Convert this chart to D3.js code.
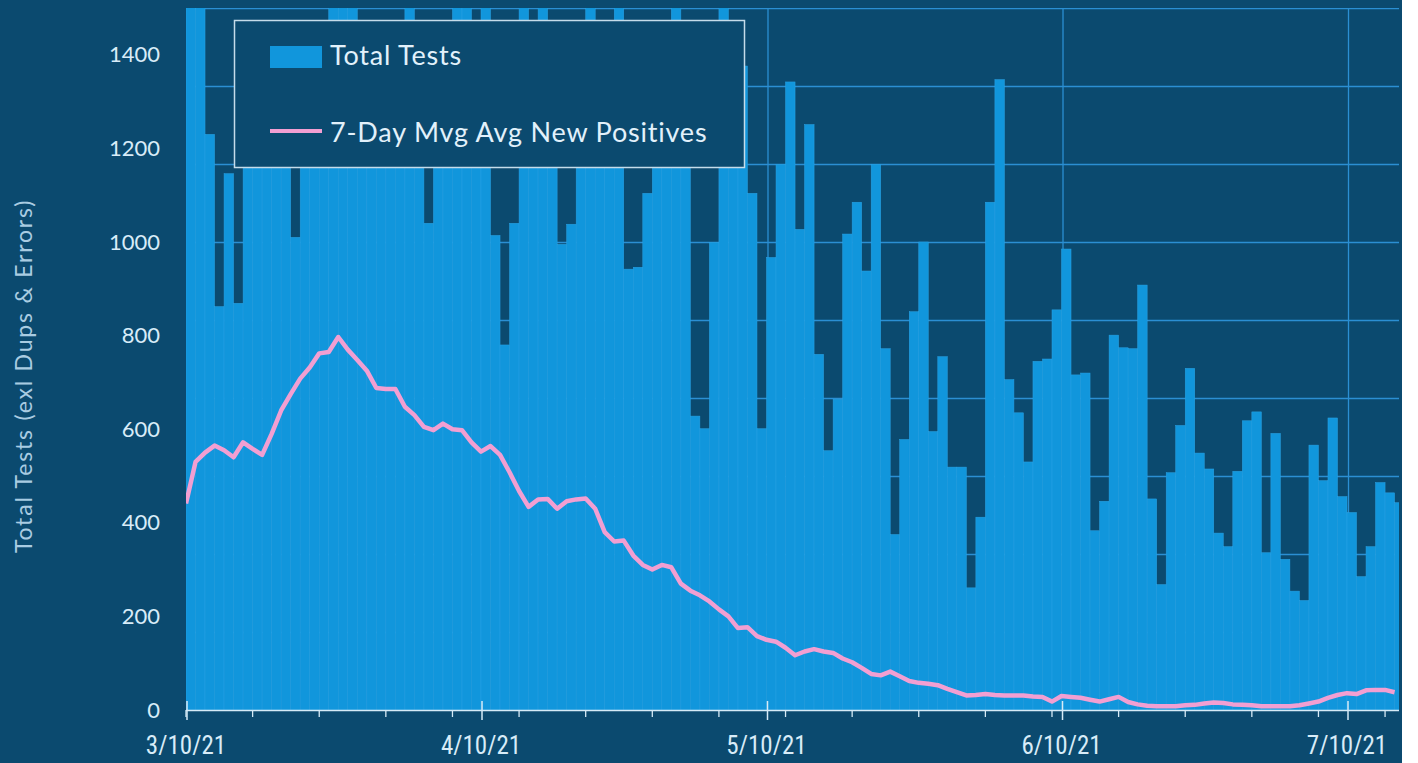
<!DOCTYPE html>
<html>
<head>
<meta charset="utf-8">
<script src="https://cdn.jsdelivr.net/npm/d3@7/dist/d3.min.js"></script>
<style>
  html, body { margin: 0; padding: 0; background: #ffffff; }
  svg { display: block; }
</style>
</head>
<body>
<svg id="chart" width="1418" height="763"></svg>
<script>
// ---------------- DATA ----------------
const startDate = "2021-03-10";   // first day (one bar per day)

// Total tests per day (values above 1500 are clipped at the top of the plot)
const totalTests = [
  1600, 1600, 1230, 862, 1146, 869, 1350, 1420, 1380, 1300,
  1400, 1010, 1380, 1440, 1320, 1600, 1600, 1600, 1400, 1350,
  1420, 1300, 1380, 1600, 1350, 1040, 1420, 1380, 1600, 1600,
  1440, 1600, 1014, 780, 1040, 1600, 1400, 1600, 1350, 995,
  1038, 1420, 1600, 1380, 1440, 1600, 942, 946, 1104, 1400,
  1350, 1600, 1420, 628, 601, 999, 1600, 1400, 1376, 1104,
  601, 967, 1166, 1342, 1027, 1251, 760, 554, 664, 1017,
  1085, 938, 1166, 772, 375, 578, 851, 1000, 595, 755,
  519, 519, 261, 412, 1085, 1347, 706, 635, 530, 745,
  750, 855, 985, 716, 720, 383, 446, 801, 774, 772,
  908, 451, 268, 507, 608, 730, 549, 515, 378, 349,
  510, 618, 637, 336, 591, 322, 254, 234, 566, 490,
  624, 456, 422, 285, 349, 486, 464, 443
];

// 7-day moving average of new positives (read against the left axis scale)
const mvgAvgPositives = [
  441, 530, 550, 565, 555, 540, 572, 558, 545, 590,
  640, 675, 708, 732, 762, 765, 797, 770, 748, 725,
  688, 686, 686, 648, 630, 605, 598, 612, 600, 598,
  572, 552, 564, 545, 508, 468, 434, 450, 451, 430,
  446, 450, 452, 430, 380, 360, 362, 330, 310, 300,
  310, 305, 270, 255, 245, 232, 215, 200, 175, 177,
  158, 150, 146, 133, 117, 125, 130, 125, 122, 110,
  102, 90, 77, 74, 82, 72, 62, 58, 56, 53,
  45, 38, 31, 32, 34, 32, 31, 31, 31, 29,
  28, 18, 30, 28, 26, 22, 18, 23, 28, 17,
  12, 9, 8, 8, 8, 10, 11, 14, 16, 15,
  12, 11, 10, 8, 8, 8, 8, 10, 14, 18,
  26, 32, 36, 34, 42, 43, 43, 38
];

const yTicks = [0, 200, 400, 600, 800, 1000, 1200, 1400];
const xTickLabels = ["3/10/21", "4/10/21", "5/10/21", "6/10/21", "7/10/21"];
const xTickDates = ["2021-03-10", "2021-04-10", "2021-05-10", "2021-06-10", "2021-07-10"];
const legendLabels = ["Total Tests", "7-Day Mvg Avg New Positives"];
const yAxisTitle = "Total Tests (exl Dups & Errors)";

// ---------------- LAYOUT ----------------
const W = 1418, H = 763;
const plot = { left: 186, right: 1399, top: 8, bottom: 710 };
const colors = {
  bg: "#0b4a6f",
  bar: "#1196dc",
  barSeam: "#2aa3e6",
  grid: "#2b8fd3",
  line: "#f29fd2",
  axis: "#d6ebf7",
  text: "#d8ecf8",
  title: "#a9cce2",
  legendBorder: "#c5dcea"
};

const parse = d3.utcParse("%Y-%m-%d");
const d0 = parse(startDate);
const days = totalTests.map((_, i) => d3.utcDay.offset(d0, i));

const x = d3.scaleUtc()
  .domain([parse("2021-03-10"), parse("2021-07-10")])
  .range([186, 1347]);
const y = d3.scaleLinear().domain([0, 1500]).range([plot.bottom, plot.top]);
const gridY = d3.scaleLinear().domain([0, 9]).range([plot.bottom, plot.top]);

const svg = d3.select("#chart");

// background
svg.append("rect").attr("x", 0).attr("y", 0).attr("width", plot.right + 3).attr("height", H)
  .attr("fill", colors.bg);

svg.append("defs").append("clipPath").attr("id", "clip")
  .append("rect").attr("x", plot.left).attr("y", plot.top)
  .attr("width", plot.right - plot.left).attr("height", plot.bottom - plot.top);

const g = svg.append("g").attr("clip-path", "url(#clip)");

// horizontal gridlines (9 equal divisions)
g.selectAll("line.hgrid").data(d3.range(1, 10)).join("line")
  .attr("class", "hgrid")
  .attr("x1", plot.left).attr("x2", plot.right)
  .attr("y1", k => gridY(k) + 0.5).attr("y2", k => gridY(k) + 0.5)
  .attr("stroke", colors.grid).attr("stroke-width", 1.3);

// vertical gridlines at labelled dates
g.selectAll("line.vgrid").data(xTickDates).join("line")
  .attr("class", "vgrid")
  .attr("x1", d => x(parse(d)) + 1.5).attr("x2", d => x(parse(d)) + 1.5)
  .attr("y1", plot.top).attr("y2", plot.bottom)
  .attr("stroke", colors.grid).attr("stroke-width", 1.3);

// bars
g.selectAll("rect.bar").data(totalTests).join("rect")
  .attr("class", "bar")
  .attr("x", (d, i) => x(days[i]))
  .attr("width", (d, i) => x(d3.utcDay.offset(days[i], 1)) - x(days[i]))
  .attr("y", d => y(d))
  .attr("height", d => y(0) - y(d))
  .attr("fill", colors.bar)
  .attr("stroke", colors.barSeam)
  .attr("stroke-width", 0.5);

// moving-average line
const line = d3.line()
  .x((d, i) => x(days[i]))
  .y(d => y(d));
g.append("path").datum(mvgAvgPositives)
  .attr("d", line)
  .attr("fill", "none")
  .attr("stroke", colors.line)
  .attr("stroke-width", 4.5)
  .attr("stroke-linejoin", "round");

// x axis line
svg.append("line")
  .attr("x1", plot.left).attr("x2", plot.right)
  .attr("y1", plot.bottom + 0.5).attr("y2", plot.bottom + 0.5)
  .attr("stroke", colors.axis).attr("stroke-width", 1.5);

// weekly minor ticks
const weekly = d3.utcDay.every(1).range(parse("2021-03-10"), parse("2021-07-16"))
  .filter((d, i) => i % 7 === 0);
svg.selectAll("line.minor").data(weekly).join("line")
  .attr("class", "minor")
  .attr("x1", d => x(d)).attr("x2", d => x(d))
  .attr("y1", plot.bottom).attr("y2", plot.bottom + 7)
  .attr("stroke", colors.axis).attr("stroke-width", 1.3);

// major ticks
svg.selectAll("line.major").data(xTickDates).join("line")
  .attr("class", "major")
  .attr("x1", d => x(parse(d)) + 1).attr("x2", d => x(parse(d)) + 1)
  .attr("y1", plot.bottom - 9).attr("y2", plot.bottom + 10)
  .attr("stroke", colors.axis).attr("stroke-width", 1.5);

// x labels
svg.selectAll("text.xlab").data(xTickLabels).join("text")
  .attr("class", "xlab")
  .attr("x", (d, i) => x(parse(xTickDates[i])))
  .attr("y", 754)
  .attr("text-anchor", "middle")
  .attr("fill", colors.text)
  .style("font-family", "'Liberation Sans Narrow', 'Arial Narrow', 'Roboto Condensed', sans-serif")
  .style("font-size", "25px")
  .text(d => d);

// y labels
svg.selectAll("text.ylab").data(yTicks).join("text")
  .attr("class", "ylab")
  .attr("x", 160)
  .attr("y", d => y(d) + 7.5)
  .attr("text-anchor", "end")
  .attr("fill", colors.text)
  .style("font-family", "Lato, 'Open Sans', sans-serif")
  .style("font-size", "22px")
  .text(d => d);

// y axis title
svg.append("text")
  .attr("transform", "translate(32,376) rotate(-90)")
  .attr("text-anchor", "middle")
  .attr("fill", colors.title)
  .style("font-family", "Lato, 'Open Sans', sans-serif")
  .style("font-size", "23px")
  .style("letter-spacing", "1.8px")
  .text(yAxisTitle);

// legend
const lg = svg.append("g");
lg.append("rect")
  .attr("x", 234.5).attr("y", 20.5).attr("width", 510).attr("height", 147)
  .attr("fill", colors.bg)
  .attr("stroke", colors.legendBorder).attr("stroke-width", 1.5);
lg.append("rect")
  .attr("x", 270).attr("y", 46).attr("width", 52).attr("height", 22)
  .attr("fill", colors.bar);
lg.append("line")
  .attr("x1", 270).attr("x2", 322).attr("y1", 131).attr("y2", 131)
  .attr("stroke", colors.line).attr("stroke-width", 4);
lg.selectAll("text").data(legendLabels).join("text")
  .attr("x", 330)
  .attr("y", (d, i) => i === 0 ? 65 : 142)
  .attr("fill", "#e2f1fb")
  .style("font-family", "Lato, 'Open Sans', sans-serif")
  .style("font-size", "27px")
  .style("letter-spacing", "0.8px")
  .text(d => d);
</script>
</body>
</html>
